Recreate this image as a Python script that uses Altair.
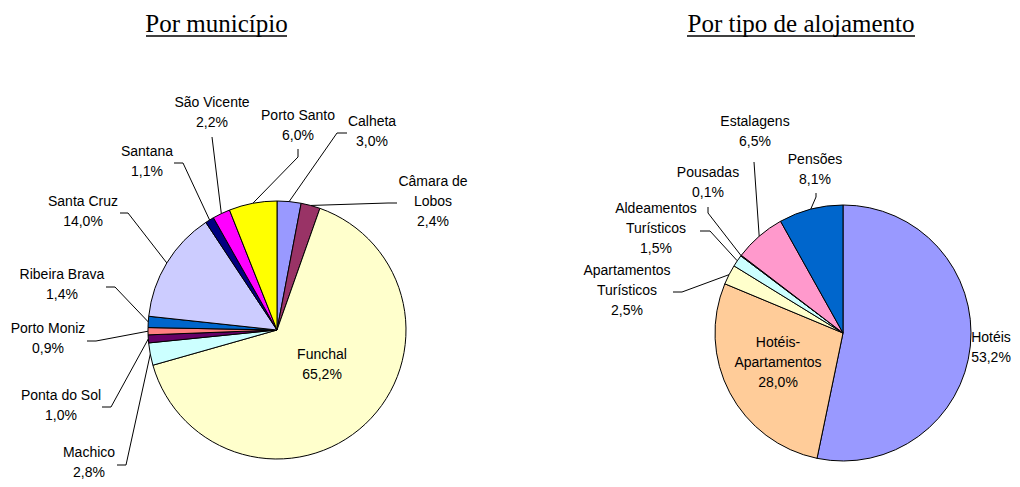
import math
import altair as alt
import pandas as pd

# ---------------- data ----------------
mun_names = ["Calheta", "Câmara de\nLobos", "Funchal", "Machico", "Ponta do Sol",
             "Porto Moniz", "Ribeira Brava", "Santa Cruz", "Santana", "São Vicente",
             "Porto Santo"]
mun_values = [3.0, 2.4, 65.2, 2.8, 1.0, 0.9, 1.4, 14.0, 1.1, 2.2, 6.0]
mun_colors = ["#9999FF", "#993366", "#FFFFCC", "#CCFFFF", "#660066", "#FF8080",
              "#0066CC", "#CCCCFF", "#000080", "#FF00FF", "#FFFF00"]

tipo_names = ["Hotéis", "Hotéis-\nApartamentos", "Apartamentos\nTurísticos",
              "Aldeamentos\nTurísticos", "Pousadas", "Estalagens", "Pensões"]
tipo_values = [53.2, 28.0, 2.5, 1.5, 0.1, 6.5, 8.1]
tipo_colors = ["#9999FF", "#FFCC99", "#FFFFCC", "#CCFFFF", "#993366", "#FF99CC", "#0066CC"]

titles = ["Por município", "Por tipo de alojamento"]

# ---------------- layout (pixel positions in page coordinates) ----------------
W, H = 1004, 471
OFF = 8
LINE_H = 20
mun_center, mun_radius = (277, 330), 129
tipo_center, tipo_radius = (843, 333), 128

# centre of each label block
mun_label_pos = [(372, 132), (433, 202), (322, 365), (89, 463), (61, 406), (48, 339),
                 (62, 285), (83, 212), (147, 162), (212, 113), (298, 126)]
mun_leader = [[(337, 133), (347, 133)], [(388, 203), (397, 203)], None,
              [(126, 465), (117, 465)], [(111, 407), (102, 407)], [(96, 341), (87, 341)],
              [(115, 287), (106, 287)], [(128, 213), (120, 213)], [(183, 163), (174, 163)],
              [(212, 137)], [(298, 157), (298, 149)]]

tipo_label_pos = [(991, 348), (778, 363), (627, 291), (656, 229), (708, 183), (755, 132), (815, 170)]
tipo_leader = [None, None, [(682, 292), (673, 292)], [(710, 231), (700, 231)],
               [(708, 213), (708, 207)], [(754, 162)], [(816, 197), (816, 193)]]

title_pos = [(216.5, 24), (801, 24)]
title_underline = [(146, 287), (687, 915)]
title_underline_y = 36


def pct(v):
    return f"{v:.1f}%".replace(".", ",")


def build(names, values, colors, center, radius, label_pos, leader, group):
    slices = pd.DataFrame({"name": names, "value": values, "color": colors,
                           "idx": list(range(len(names)))})
    total = sum(values)
    labels, lines = [], []
    cum = 0.0
    for i, (n, v) in enumerate(zip(names, values)):
        mid = (cum + v / 2) / total * 2 * math.pi
        cum += v
        txt = n + "\n" + pct(v)
        nlines = txt.count("\n") + 1
        lx, ly = label_pos[i]
        labels.append({"x": lx, "y": ly - (nlines - 1) * LINE_H / 2, "text": txt})
        if leader[i] is not None:
            ex = center[0] + radius * math.sin(mid)
            ey = center[1] - radius * math.cos(mid)
            pts = [(ex, ey)] + leader[i]
            for k, (px, py) in enumerate(pts):
                lines.append({"id": f"{group}{i}", "k": k, "x": px, "y": py})
    return slices, pd.DataFrame(labels), pd.DataFrame(lines)


xs = alt.Scale(domain=[OFF, OFF + W], nice=False, zero=False)
ys = alt.Scale(domain=[OFF, OFF + H], nice=False, zero=False, reverse=True)

layers_arcs, layers_other = [], []
for (names, values, colors, center, radius, lp, ld, g) in [
    (mun_names, mun_values, mun_colors, mun_center, mun_radius, mun_label_pos, mun_leader, "m"),
    (tipo_names, tipo_values, tipo_colors, tipo_center, tipo_radius, tipo_label_pos, tipo_leader, "t"),
]:
    sl, lab, lin = build(names, values, colors, center, radius, lp, ld, g)
    arc = alt.Chart(sl).mark_arc(radius=radius, stroke="black", strokeWidth=1).encode(
        theta=alt.Theta("value:Q", stack=True),
        order=alt.Order("idx:Q"),
        color=alt.Color("color:N", scale=None),
        x=alt.X(datum=center[0], type="quantitative", scale=xs, axis=None),
        y=alt.Y(datum=center[1], type="quantitative", scale=ys, axis=None),
    )
    layers_arcs.append(arc)
    line = alt.Chart(lin).mark_line(color="black", strokeWidth=1).encode(
        x=alt.X("x:Q", scale=xs, axis=None),
        y=alt.Y("y:Q", scale=ys, axis=None),
        detail="id:N",
        order="k:Q",
    )
    text = alt.Chart(lab).mark_text(font="Liberation Sans", fontSize=14, lineBreak="\n",
                                    lineHeight=LINE_H, align="center", baseline="middle",
                                    color="black").encode(
        x=alt.X("x:Q", scale=xs, axis=None),
        y=alt.Y("y:Q", scale=ys, axis=None),
        text="text:N",
    )
    layers_other += [line, text]

tdf = pd.DataFrame({"title": titles,
                    "x": [p[0] for p in title_pos], "y": [p[1] for p in title_pos],
                    "x1": [u[0] for u in title_underline], "x2": [u[1] for u in title_underline],
                    "uy": [title_underline_y] * 2})
title_text = alt.Chart(tdf).mark_text(font="Liberation Serif", fontSize=25, align="center",
                                      baseline="middle", color="black").encode(
    x=alt.X("x:Q", scale=xs, axis=None), y=alt.Y("y:Q", scale=ys, axis=None), text="title:N")
title_rule = alt.Chart(tdf).mark_rule(color="black", strokeWidth=1.5).encode(
    x=alt.X("x1:Q", scale=xs, axis=None), x2="x2:Q", y=alt.Y("uy:Q", scale=ys, axis=None))

chart = alt.layer(*layers_arcs, *layers_other, title_text, title_rule).resolve_scale(
    theta="independent"
).properties(
    width=W, height=H, autosize=alt.AutoSizeParams(type="none"), padding=0
).configure_view(stroke=None)

chart.save("out.html", embed_options={"renderer": "svg", "actions": False})
